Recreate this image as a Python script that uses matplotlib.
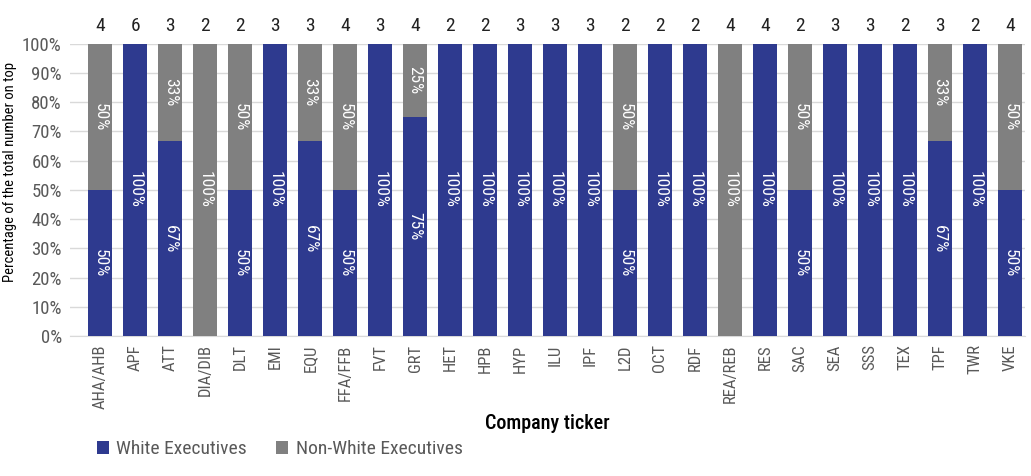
import matplotlib
matplotlib.use("Agg")
import matplotlib.pyplot as plt
from matplotlib import font_manager
import numpy as np

# pick a narrow font if one is installed
names = set(f.name for f in font_manager.fontManager.ttflist)
narrow = [n for n in ['Liberation Sans Narrow', 'DejaVu Sans Condensed', 'Roboto Condensed',
                      'Open Sans Condensed', 'Noto Sans Condensed'] if n in names]
plt.rcParams['font.family'] = narrow + ['DejaVu Sans']
plt.rcParams['font.stretch'] = 'condensed'

tickers = ['AHA/AHB', 'APF', 'ATT', 'DIA/DIB', 'DLT', 'EMI', 'EQU', 'FFA/FFB', 'FVT',
           'GRT', 'HET', 'HPB', 'HYP', 'ILU', 'IPF', 'L2D', 'OCT', 'RDF', 'REA/REB',
           'RES', 'SAC', 'SEA', 'SSS', 'TEX', 'TPF', 'TWR', 'VKE']
totals = [4, 6, 3, 2, 2, 3, 3, 4, 3, 4, 2, 2, 3, 3, 3, 2, 2, 2, 4, 4, 2, 3, 3, 2, 3, 2, 4]
white = [2, 6, 2, 0, 1, 3, 2, 2, 3, 3, 2, 2, 3, 3, 3, 1, 2, 2, 0, 4, 1, 3, 3, 2, 2, 2, 2]

blue = '#2e3a8f'
grey = '#808080'

totals = np.array(totals)
white_pct = np.array(white) / totals * 100
nonwhite_pct = 100 - white_pct
x = np.arange(len(tickers))

fig = plt.figure(figsize=(10.31, 4.76), dpi=100)
ax = fig.add_axes([0.068, 0.294, 0.926, 0.614])

ax.bar(x, white_pct, width=0.68, color=blue, label='White Executives', zorder=3)
ax.bar(x, nonwhite_pct, width=0.68, bottom=white_pct, color=grey,
       label='Non-White Executives', zorder=3)

# labels inside the bars
for i in range(len(x)):
    if white_pct[i] > 0:
        ax.text(x[i], white_pct[i] / 2, f"{white_pct[i]:.0f}%", rotation=270,
                ha='center', va='center', color='white', fontsize=12.5, zorder=4)
    if nonwhite_pct[i] > 0:
        ax.text(x[i], white_pct[i] + nonwhite_pct[i] / 2, f"{nonwhite_pct[i]:.0f}%",
                rotation=270, ha='center', va='center', color='white', fontsize=12.5, zorder=4)
    ax.text(x[i], 103, str(totals[i]), ha='center', va='bottom', fontsize=14,
            color='#222222')

ax.set_xlim(-0.86, 26.43)
ax.set_ylim(0, 100)
ax.set_yticks(np.arange(0, 101, 10))
ax.set_yticklabels([f"{v}%" for v in range(0, 101, 10)], fontsize=13.5, color='#595959')
ax.set_xticks(x)
ax.set_xticklabels(tickers, rotation=90, fontsize=12, color='#595959')
ax.tick_params(length=0, pad=6)
ax.grid(axis='y', color='#d9d9d9', lw=1, zorder=0)
for s in ['top', 'right', 'left']:
    ax.spines[s].set_visible(False)
ax.spines['bottom'].set_color('#d9d9d9')

ax.set_ylabel('Percentage of the total number on top', fontsize=10.5, color='black')
ax.yaxis.set_label_coords(-0.056, 0.56)
ax.set_xlabel('Company ticker', fontsize=14.5, color='black', fontweight='medium')
ax.xaxis.set_label_coords(0.5, -0.265)

fig.legend(loc='lower left', bbox_to_anchor=(0.077, 0.0), ncol=2, frameon=False,
           fontsize=14, handlelength=0.6, handleheight=0.6, handletextpad=0.4,
           columnspacing=1.5, labelcolor='#595959')

fig.savefig('out.png', dpi=100)
